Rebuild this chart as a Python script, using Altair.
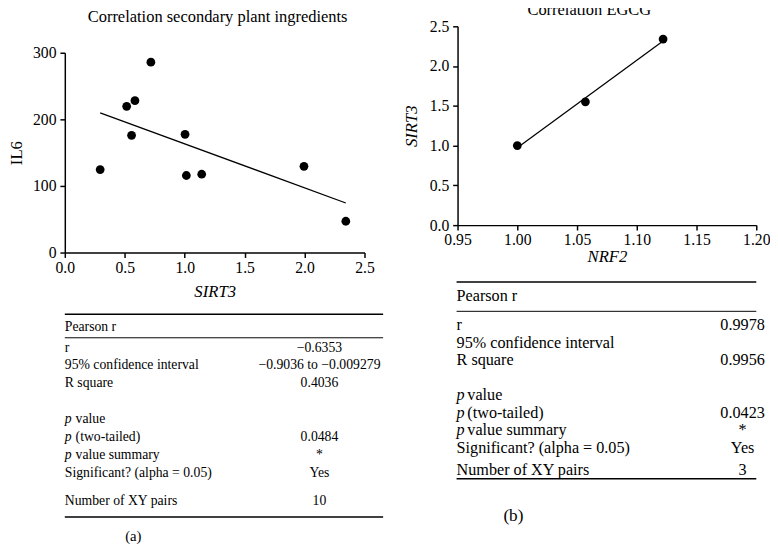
import altair as alt
import pandas as pd

FONT = "Liberation Serif"

# ---- data (a) secondary plant ingredients ----
sirt3_a = [0.295, 0.516, 0.585, 0.557, 0.718, 1.003, 1.014, 1.142, 1.995, 2.344]
il6_a = [124.6, 219.6, 228.0, 176.0, 285.8, 177.5, 115.7, 117.6, 129.4, 47.0]

# ---- data (b) EGCG ----
nrf2_b = [1.000, 1.057, 1.122]
sirt3_b = [1.00, 1.55, 2.34]

# ---- axis ticks ----
ticks_a_x = [0.0, 0.5, 1.0, 1.5, 2.0, 2.5]
ticks_a_y = [0, 100, 200, 300]
ticks_b_x = [0.95, 1.00, 1.05, 1.10, 1.15, 1.20]
ticks_b_y = [0.0, 0.5, 1.0, 1.5, 2.0, 2.5]

# ---- tables ----
row_prefix = ["", "", "", "", "p", "p", "p", ""]
row_rest = ["r", "95% confidence interval", "R square", "", "value", "(two-tailed)",
            "value summary", "Significant? (alpha = 0.05)"]
values_a = ["\u22120.6353", "\u22120.9036 to \u22120.009279", "0.4036", "", "", "0.0484",
            "*", "Yes"]
values_b = ["0.9978", "", "0.9956", "", "", "0.0423", "*", "Yes"]
footer_label = "Number of XY pairs"
footer_a = "10"
footer_b = "3"


def axis_common(**kw):
    base = dict(grid=False, domainColor="black", tickColor="black", labelColor="black",
                titleColor="black", labelFont=FONT, titleFont=FONT, domainWidth=1.5,
                tickWidth=1.5, titleFontWeight="normal", labelFlush=False)
    base.update(kw)
    return alt.Axis(**base)


def scatter(xs, ys, xname, yname, xdom, ydom, xticks, yticks, xfmt, yfmt,
            xital, yital, yrange, fs_lab, xtp, ytp):
    df = pd.DataFrame({xname: xs, yname: ys})
    base = alt.Chart(df)
    x = alt.X(f"{xname}:Q", scale=alt.Scale(domain=xdom, nice=False, zero=False),
              axis=axis_common(values=xticks, format=xfmt, title=xname,
                               titleFontStyle="italic" if xital else "normal",
                               labelFontSize=fs_lab, titleFontSize=17, tickSize=5,
                               labelPadding=2, titlePadding=xtp))
    y = alt.Y(f"{yname}:Q", scale=alt.Scale(domain=ydom, range=yrange, nice=False, zero=False),
              axis=axis_common(values=yticks, format=yfmt, title=yname,
                               titleFontStyle="italic" if yital else "normal",
                               labelFontSize=fs_lab, titleFontSize=17, tickSize=5,
                               labelPadding=4, titlePadding=ytp))
    pts = base.mark_circle(size=80, color="black", opacity=1).encode(x=x, y=y)
    line = base.transform_regression(xname, yname).mark_line(
        color="black", strokeWidth=1.3).encode(x=x, y=y)
    return alt.layer(line, pts)


def table(values, footer_value, x0, w, fs, top_rule, header_y, mid_rule, bottom_rule, rng,
          footer_y, value_x, caption, cap_x, cap_y, rest_dx):
    n = len(row_rest)
    df = pd.DataFrame({"idx": list(range(n)), "prefix": row_prefix,
                       "rest": row_rest, "value": values})
    base = alt.Chart(df)
    y = alt.Y("idx:Q", scale=alt.Scale(domain=[0, n - 1], range=rng, nice=False, zero=False),
              axis=None)
    txt = dict(baseline="middle", font=FONT, fontSize=fs, color="black")
    plain = base.transform_filter("datum.prefix == ''").mark_text(align="left", **txt).encode(
        x=alt.value(x0), y=y, text="rest:N")
    pre = base.transform_filter("datum.prefix != ''").mark_text(
        align="left", fontStyle="italic", **txt).encode(x=alt.value(x0), y=y, text="prefix:N")
    rest = base.transform_filter("datum.prefix != ''").mark_text(align="left", **txt).encode(
        x=alt.value(x0 + rest_dx), y=y, text="rest:N")
    vals = base.mark_text(align="center", **txt).encode(
        x=alt.value(value_x), y=y, text="value:N")
    rows = alt.layer(plain, pre, rest, vals)
    one = alt.Chart(pd.DataFrame({"k": [0]}))
    header = one.mark_text(align="left", text="Pearson r", **txt).encode(
        x=alt.value(x0), y=alt.value(header_y))
    foot_l = one.mark_text(align="left", text=footer_label, **txt).encode(
        x=alt.value(x0), y=alt.value(footer_y))
    foot_v = one.mark_text(align="center", text=footer_value, **txt).encode(
        x=alt.value(value_x), y=alt.value(footer_y))
    r1 = one.mark_rule(color="black", strokeWidth=1.5).encode(
        x=alt.value(x0), x2=alt.value(x0 + w), y=alt.value(top_rule))
    r2 = one.mark_rule(color="black", strokeWidth=1.0).encode(
        x=alt.value(x0), x2=alt.value(x0 + w), y=alt.value(mid_rule))
    r3 = one.mark_rule(color="black", strokeWidth=1.5).encode(
        x=alt.value(x0), x2=alt.value(x0 + w), y=alt.value(bottom_rule))
    cap = one.mark_text(align="center", text=caption, baseline="middle", font=FONT,
                        fontSize=fs + 1, color="black").encode(
        x=alt.value(cap_x), y=alt.value(cap_y))
    return [r1, r2, r3, header, rows, foot_l, foot_v, cap]


def title(text, offset, dx):
    return alt.TitleParams(text, font=FONT, fontSize=16.8, fontWeight="normal",
                           color="black", anchor="middle", offset=offset, dx=dx)


# panel (a): view origin at image (60, 21); axes drawn from y=48 to 252
scatter_a = scatter(sirt3_a, il6_a, "SIRT3", "IL6", [0, 2.5], [0, 300], ticks_a_x, ticks_a_y,
                    ".1f", "d", True, False, [231, 27], 16, 9, 7)
table_a = table(values_a, footer_a, 0, 325, 14, 294, 307, 318, 501, [328.1, 456.2], 485,
                260, "(a)", 70, 521, 11)
panel_a = alt.layer(scatter_a, *table_a).resolve_scale(y="independent").properties(
    width=306, height=231,
    title=title("Correlation secondary plant ingredients", 1, 3))

# panel (b): view origin at image (461, 21)
scatter_b = scatter(nrf2_b, sirt3_b, "NRF2", "SIRT3", [0.95, 1.2], [0, 2.5], ticks_b_x,
                    ticks_b_y, ".2f", ".1f", True, True, [203, 0], 16, 1, 9)
table_b = table(values_b, footer_b, -1, 306, 16.5, 261, 275, 291, 462, [305.4, 430.4], 453,
                291, "(b)", 57, 500, 11)
panel_b = alt.layer(scatter_b, *table_b).resolve_scale(y="independent").properties(
    width=305, height=203, title=title("Correlation EGCG", 0, -18))

chart = alt.hconcat(panel_a, panel_b, spacing=95, bounds="flush").properties(
    padding={"left": 0, "top": -12, "right": 0, "bottom": 0}
).configure_view(strokeWidth=0).configure_axis(
    labelFont=FONT, titleFont=FONT
).configure_text(font=FONT).configure_title(font=FONT)

chart.save("out.html", embed_options={"renderer": "svg", "actions": False})
